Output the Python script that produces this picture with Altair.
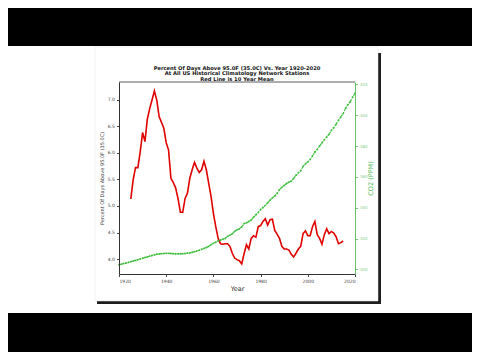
import altair as alt
import pandas as pd

# ---- data ----
red_years = list(range(1925, 2016))
red_values = [
    5.13, 5.49, 5.72, 5.72, 6.02, 6.38, 6.21, 6.63, 6.83, 6.99,
    7.16, 6.99, 6.68, 6.57, 6.46, 6.19, 6.05, 5.52, 5.44, 5.34,
    5.14, 4.88, 4.88, 5.14, 5.24, 5.52, 5.68, 5.82, 5.71, 5.63,
    5.68, 5.84, 5.68, 5.43, 5.18, 4.86, 4.61, 4.39, 4.29, 4.28,
    4.29, 4.29, 4.24, 4.11, 4.02, 3.99, 3.97, 3.91, 4.10, 4.27,
    4.19, 4.39, 4.44, 4.41, 4.61, 4.63, 4.71, 4.76, 4.64, 4.74,
    4.75, 4.54, 4.47, 4.39, 4.24, 4.19, 4.19, 4.17, 4.09, 4.04,
    4.11, 4.19, 4.24, 4.48, 4.53, 4.44, 4.44, 4.61, 4.71, 4.46,
    4.39, 4.28, 4.46, 4.57, 4.48, 4.52, 4.49, 4.42, 4.29, 4.31,
    4.34,
]

co2_years = list(range(1920, 2021))
co2_values = [
    303.0, 303.4, 303.8, 304.1, 304.5, 305.0, 305.4, 305.8, 306.3, 306.8,
    307.2, 307.7, 308.1, 308.6, 309.0, 309.4, 309.8, 310.0, 310.2, 310.3,
    310.4, 310.4, 310.3, 310.2, 310.1, 310.1, 310.1, 310.2, 310.3, 310.5,
    310.7, 311.1, 311.5, 311.9, 312.4, 313.0, 313.6, 314.2, 314.9, 316.0,
    316.9, 317.6, 318.5, 319.0, 319.6, 320.0, 321.4, 322.2, 323.1, 324.6,
    325.7, 326.3, 327.5, 329.7, 330.2, 331.1, 332.0, 333.8, 335.4, 336.8,
    338.8, 340.1, 341.5, 343.2, 344.9, 346.4, 347.6, 349.3, 351.7, 353.2,
    354.5, 355.7, 356.5, 357.2, 359.0, 361.0, 362.7, 363.9, 366.8, 368.5,
    369.7, 371.3, 373.5, 376.0, 377.7, 380.0, 382.1, 384.0, 385.8, 387.6,
    390.1, 391.9, 394.1, 396.7, 398.8, 401.0, 404.4, 406.8, 408.7, 411.7,
    414.2,
]

x_ticks = [1920, 1940, 1960, 1980, 2000, 2020]
left_ticks = [4.0, 4.5, 5.0, 5.5, 6.0, 6.5, 7.0]
right_ticks = [300, 320, 340, 360, 380, 400, 420]

title_lines = [
    "Percent Of Days Above 95.0F (35.0C) Vs. Year 1920-2020",
    "At All US Historical Climatology Network Stations",
    "Red Line is 10 Year Mean",
]

red_df = pd.DataFrame({"year": red_years, "pct": red_values})
co2_df = pd.DataFrame({"year": co2_years, "co2": co2_values})
dummy = pd.DataFrame({"a": [0]})

FONT = "DejaVu Sans"

x_enc = alt.X(
    "year:Q",
    scale=alt.Scale(domain=[1920, 2020], nice=False, zero=False),
    axis=alt.Axis(
        values=x_ticks, format="d", title="Year", grid=False, zindex=2,
        labelFontSize=4.5, labelColor="#444", titleFontSize=6.5,
        titleFontWeight="normal", titleColor="#333333", titlePadding=2,
        tickSize=2.5, tickColor="#444", domainColor="#333", labelPadding=2,
    ),
)

# decorative page background: white band and card with shadow
band = alt.Chart(dummy).mark_rect(color="white").encode(
    x=alt.value(-111), x2=alt.value(353), y=alt.value(-36), y2=alt.value(231)
)
shadow = alt.Chart(dummy).mark_rect(color="#1e1e1e").encode(
    x=alt.value(-22), x2=alt.value(262), y=alt.value(-29), y2=alt.value(222)
)
card = alt.Chart(dummy).mark_rect(color="white", stroke="#e4e4e4", strokeWidth=0.5).encode(
    x=alt.value(-24), x2=alt.value(259), y=alt.value(-35), y2=alt.value(219)
)
top_border = alt.Chart(dummy).mark_rule(color="#333", strokeWidth=0.8).encode(
    x=alt.value(0), x2=alt.value(236), y=alt.value(0)
)

red = alt.Chart(red_df).mark_line(color="#e00000", strokeWidth=1.6).encode(
    x=x_enc,
    y=alt.Y(
        "pct:Q",
        scale=alt.Scale(domain=[3.72, 7.33], nice=False, zero=False),
        axis=alt.Axis(
            values=left_ticks, format=".1f", orient="left", grid=False, zindex=2,
            title="Percent Of Days Above 95.0F (35.0C)",
            labelFontSize=4.5, labelColor="#444", titleFontSize=5,
            titleFontWeight="normal", titleColor="#333", titlePadding=3,
            tickSize=2.5, tickColor="#444", domainColor="#333", labelPadding=2,
        ),
    ),
)

green = alt.Chart(co2_df).mark_line(
    color="#3cbf3c", strokeWidth=1.2, strokeDash=[2, 1],
    point=alt.OverlayMarkDef(size=3.5, filled=True, color="#3cbf3c"),
).encode(
    x=x_enc,
    y=alt.Y(
        "co2:Q",
        scale=alt.Scale(domain=[297, 421.5], nice=False, zero=False),
        axis=alt.Axis(
            values=right_ticks, format="d", orient="right", grid=False, zindex=2,
            title="CO2 (PPM)", titleAngle=270,
            labelFontSize=4, labelColor="#88cc88", titleFontSize=6.5,
            titleFontWeight="normal", titleColor="#55bb55", titlePadding=6,
            tickSize=2.5, tickColor="#77cc77", domainColor="#66c466", labelPadding=2,
        ),
    ),
)

chart = (
    alt.layer(band, shadow, card, top_border, red, green)
    .resolve_scale(y="independent")
    .properties(
        width=236,
        height=192,
        autosize=alt.AutoSizeParams(type="none"),
        padding={"left": 111, "top": 74, "right": 117, "bottom": 78},
        background="black",
        title=alt.TitleParams(
            text=title_lines, fontSize=5.2, font=FONT, fontWeight="bold",
            color="#111", anchor="middle", offset=-36, lineHeight=5.4,
            frame="group",
        ),
    )
    .configure(font=FONT)
    .configure_view(stroke=None)
)

chart.save("out.html", embed_options={"renderer": "svg", "actions": False})
